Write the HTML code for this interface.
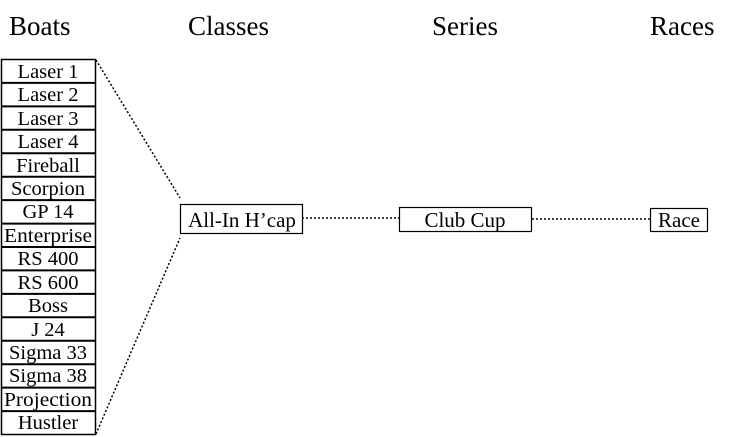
<!DOCTYPE html>
<html><head><meta charset="utf-8"><style>
html,body{margin:0;padding:0;background:#fff;}
svg{display:block;font-family:"Liberation Serif",serif;}
</style></head><body>
<svg width="735" height="437" viewBox="0 0 735 437" xmlns="http://www.w3.org/2000/svg">
<g font-size="27" fill="#000">
<text x="9" y="35">Boats</text>
<text x="188" y="35">Classes</text>
<text x="432" y="35">Series</text>
<text x="650" y="35">Races</text>
</g>
<g stroke="#000" stroke-width="1.5" fill="#fff">
<rect x="1.5" y="59.5" width="94" height="375"/>
</g>
<g stroke="#000" stroke-width="2">
<line x1="1" x2="96" y1="82.9" y2="82.9"/>
<line x1="1" x2="96" y1="106.4" y2="106.4"/>
<line x1="1" x2="96" y1="129.8" y2="129.8"/>
<line x1="1" x2="96" y1="153.3" y2="153.3"/>
<line x1="1" x2="96" y1="176.7" y2="176.7"/>
<line x1="1" x2="96" y1="200.1" y2="200.1"/>
<line x1="1" x2="96" y1="223.6" y2="223.6"/>
<line x1="1" x2="96" y1="247" y2="247"/>
<line x1="1" x2="96" y1="270.4" y2="270.4"/>
<line x1="1" x2="96" y1="293.9" y2="293.9"/>
<line x1="1" x2="96" y1="317.3" y2="317.3"/>
<line x1="1" x2="96" y1="340.8" y2="340.8"/>
<line x1="1" x2="96" y1="364.2" y2="364.2"/>
<line x1="1" x2="96" y1="387.6" y2="387.6"/>
<line x1="1" x2="96" y1="411.1" y2="411.1"/>
</g>
<g font-size="20.5" text-anchor="middle" fill="#000">
<text x="48" y="78">Laser 1</text>
<text x="48" y="101">Laser 2</text>
<text x="48" y="125">Laser 3</text>
<text x="48" y="148">Laser 4</text>
<text x="48" y="172">Fireball</text>
<text x="48" y="195">Scorpion</text>
<text x="48" y="218">GP 14</text>
<text x="48" y="242" textLength="88" lengthAdjust="spacingAndGlyphs">Enterprise</text>
<text x="48" y="265">RS 400</text>
<text x="48" y="289">RS 600</text>
<text x="48" y="312">Boss</text>
<text x="48" y="336">J 24</text>
<text x="48" y="359">Sigma 33</text>
<text x="48" y="382">Sigma 38</text>
<text x="48" y="406" textLength="88" lengthAdjust="spacingAndGlyphs">Projection</text>
<text x="48" y="429">Hustler</text>
</g>
<g stroke="#000" stroke-width="1.5" stroke-dasharray="2,2" fill="none">
<line x1="96" y1="60" x2="180" y2="198"/>
<line x1="96" y1="434" x2="180" y2="238"/>
<line x1="302" y1="218" x2="399" y2="218"/>
<line x1="532" y1="219" x2="650" y2="219"/>
</g>
<g stroke="#000" stroke-width="1.2" fill="#fff">
<rect x="180.5" y="204.5" width="122" height="29"/>
<rect x="399.5" y="207.5" width="132" height="24"/>
<rect x="650.5" y="208.5" width="57" height="23"/>
</g>
<g font-size="21" text-anchor="middle" fill="#000">
<text x="242" y="227">All-In H’cap</text>
<text x="465" y="227">Club Cup</text>
<text x="679" y="227">Race</text>
</g>
</svg>
</body></html>
